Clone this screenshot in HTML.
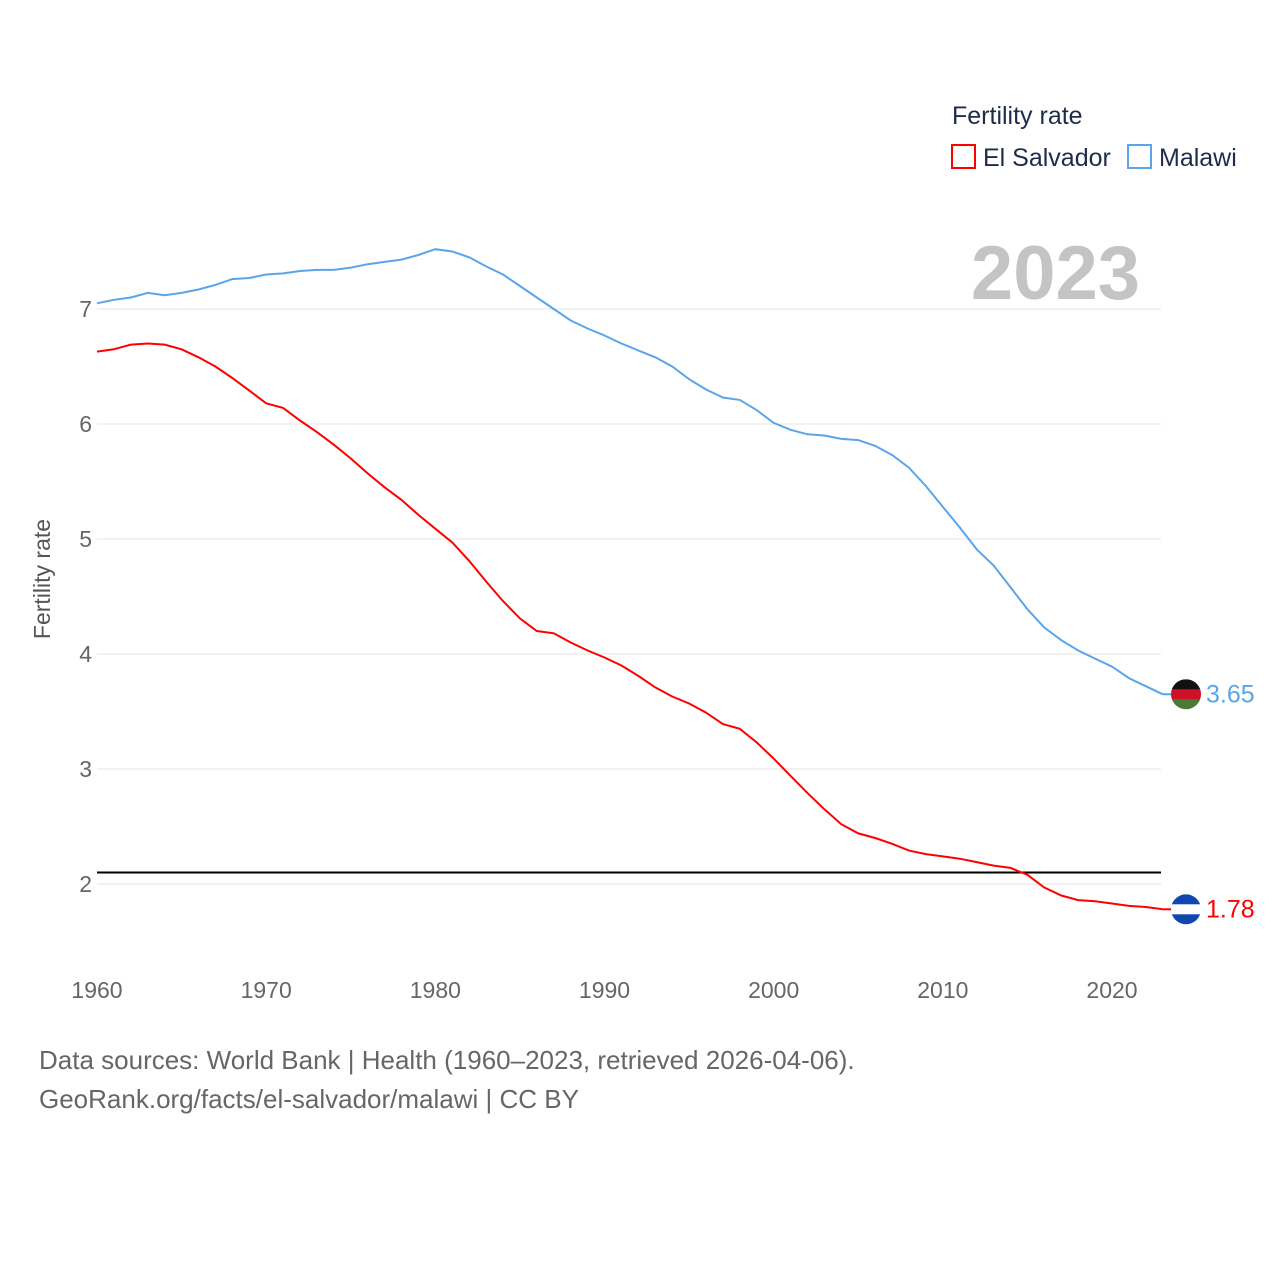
<!DOCTYPE html>
<html><head><meta charset="utf-8">
<style>
body{margin:0;background:#fff;font-family:"Liberation Sans",sans-serif;}
svg text{font-family:"Liberation Sans",sans-serif;}
</style></head>
<body>
<svg id="chart" width="1280" height="1280" viewBox="0 0 1280 1280" xmlns="http://www.w3.org/2000/svg">
<rect width="1280" height="1280" fill="#fff"/>
<g id="grid"></g>
<g id="yticks"></g>
<g id="xticks"></g>
<text x="50" y="579" transform="rotate(-90 50 579)" text-anchor="middle" font-size="23" fill="#555">Fertility rate</text>
<text x="1140" y="299" text-anchor="end" font-size="76" font-weight="bold" fill="#c4c4c4">2023</text>
<line id="refline" x1="97" x2="1161" stroke="#000" stroke-width="2"/>
<path id="line-sv" fill="none" stroke="#ff0000" stroke-width="2"/>
<path id="line-mw" fill="none" stroke="#5aa5ea" stroke-width="2"/>
<g id="endlabels"></g>
<g>
<text x="952" y="124" font-size="25" fill="#1e2b4a">Fertility rate</text>
<g><rect x="952" y="145" width="23" height="23" fill="none" stroke="#ff0000" stroke-width="2"/><text x="983" y="166" font-size="25" fill="#1e2b4a">El Salvador</text></g>
<g><rect x="1128" y="145" width="23" height="23" fill="none" stroke="#5aa5ea" stroke-width="2"/><text x="1159" y="166" font-size="25" fill="#1e2b4a">Malawi</text></g>
</g>
<text x="39" y="1069" font-size="26" fill="#666">Data sources: World Bank | Health (1960–2023, retrieved 2026-04-06).</text>
<text x="39" y="1108" font-size="26" fill="#666">GeoRank.org/facts/el-salvador/malawi | CC BY</text>
</svg>
<script>
const years=[];for(let y=1960;y<=2023;y++)years.push(y);
const malawi=[7.05,7.08,7.10,7.14,7.12,7.14,7.17,7.21,7.26,7.27,7.30,7.31,7.33,7.34,7.34,7.36,7.39,7.41,7.43,7.47,7.52,7.50,7.45,7.37,7.30,7.20,7.10,7.00,6.90,6.83,6.77,6.70,6.64,6.58,6.50,6.39,6.30,6.23,6.21,6.12,6.01,5.95,5.91,5.90,5.87,5.86,5.81,5.73,5.62,5.46,5.28,5.10,4.91,4.77,4.58,4.39,4.23,4.12,4.03,3.96,3.89,3.79,3.72,3.65];
const elSalvador=[6.63,6.65,6.69,6.70,6.69,6.65,6.58,6.50,6.40,6.29,6.18,6.14,6.03,5.93,5.82,5.70,5.57,5.45,5.34,5.21,5.09,4.97,4.81,4.63,4.46,4.31,4.20,4.18,4.10,4.03,3.97,3.90,3.81,3.71,3.63,3.57,3.49,3.39,3.35,3.23,3.09,2.94,2.79,2.65,2.52,2.44,2.40,2.35,2.29,2.26,2.24,2.22,2.19,2.16,2.14,2.08,1.97,1.90,1.86,1.85,1.83,1.81,1.80,1.78];
const yTicks=[2,3,4,5,6,7];
const xTicks=[1960,1970,1980,1990,2000,2010,2020];
const replacement=2.1;
const NS="http://www.w3.org/2000/svg";
const X=y=>97+(y-1960)*(1015/60);
const Y=v=>884-(v-2)*115;
function mk(t,a,p,txt){const e=document.createElementNS(NS,t);for(const k in a)e.setAttribute(k,a[k]);if(txt!=null)e.textContent=txt;p.appendChild(e);return e;}
const grid=document.getElementById('grid'),yt=document.getElementById('yticks'),xt=document.getElementById('xticks');
yTicks.forEach(v=>{
 const l=mk('line',{x1:97,x2:1161,y1:Y(v),y2:Y(v),stroke:'#e6e6e6','stroke-width':1},grid);
 
 
 const t=mk('text',{x:92,y:Y(v)+8,'text-anchor':'end','font-size':23,fill:'#666'},yt,v);
 
 
});
xTicks.forEach(v=>{
 const t=mk('text',{x:X(v),y:998,'text-anchor':'middle','font-size':23,fill:'#666'},xt,v);
 
 
});
const rl=document.getElementById('refline');rl.setAttribute('y1',Y(replacement));rl.setAttribute('y2',Y(replacement));
const path=a=>a.map((v,i)=>(i?'L':'M')+X(years[i]).toFixed(1)+' '+Y(v).toFixed(1)).join(' ');
document.getElementById('line-sv').setAttribute('d',path(elSalvador));
document.getElementById('line-mw').setAttribute('d',path(malawi));
const el=document.getElementById('endlabels');
function endLabel(arr,color,name,flag){
 const v=arr[arr.length-1],x=X(years[years.length-1]),y=Y(v);
 const g=mk('g',{},el);
 
 
 mk('line',{x1:x,x2:1172,y1:y,y2:y,stroke:color,'stroke-width':2},g);
 const cx=1186,r=15;
 const clip=mk('clipPath',{id:'c'+name},g);
 mk('circle',{cx:cx,cy:y,r:r},clip);
 const fg=mk('g',{'clip-path':'url(#c'+name+')'},g);
 flag.forEach((c,i)=>mk('rect',{x:cx-r,y:y-r+i*2*r/3,width:2*r,height:2*r/3+0.5,fill:c},fg));
 mk('text',{x:1206,y:y+8,'font-size':25,fill:color},g,v.toFixed(2));
}
endLabel(malawi,'#5aa5ea','malawi',['#111','#ce1126','#4a7a35']);
endLabel(elSalvador,'#ff0000','el-salvador',['#0f47af','#fff','#0f47af']);
</script>
</body></html>
